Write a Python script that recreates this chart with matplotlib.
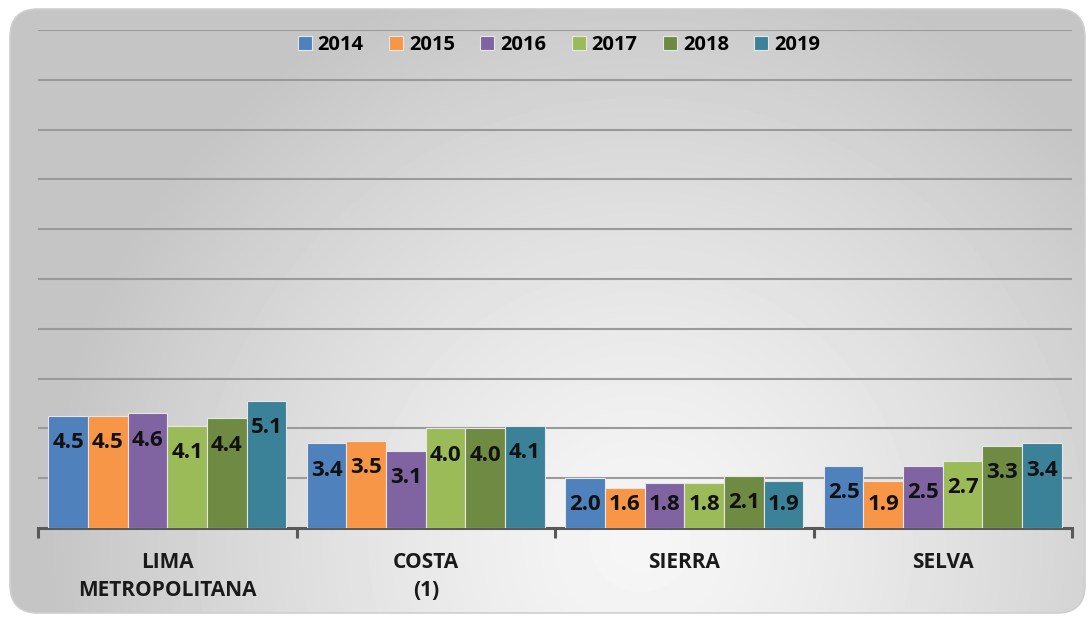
import numpy as np
import matplotlib
matplotlib.use("Agg")
import matplotlib.pyplot as plt
from matplotlib.patches import FancyBboxPatch

plt.rcParams['font.family'] = ['Open Sans', 'DejaVu Sans']

regions = ["LIMA\nMETROPOLITANA", "COSTA\n(1)", "SIERRA", "SELVA"]
years = ["2014", "2015", "2016", "2017", "2018", "2019"]
v2014 = [4.5, 3.4, 2.0, 2.5]
v2015 = [4.5, 3.5, 1.6, 1.9]
v2016 = [4.6, 3.1, 1.8, 2.5]
v2017 = [4.1, 4.0, 1.8, 2.7]
v2018 = [4.4, 4.0, 2.1, 3.3]
v2019 = [5.1, 4.1, 1.9, 3.4]
series = [v2014, v2015, v2016, v2017, v2018, v2019]
colors = ["#4f81bd", "#f79646", "#8064a2", "#9bbb59", "#6f8a42", "#3b8299"]

W, H = 1089, 621
fig = plt.figure(figsize=(W / 100, H / 100), dpi=100)
fig.patch.set_facecolor("white")

# background panel with soft gradient
bg = fig.add_axes([0, 0, 1, 1], zorder=-5)
bg.set_xlim(0, W)
bg.set_ylim(0, H)
bg.axis("off")
yy, xx = np.mgrid[0:H, 0:W]
d = np.hypot(xx - 640, (H - yy) - 80)
shade = np.clip(0.965 - 0.18 * (d / 560) ** 1.3, 0.77, 1)
img = bg.imshow(shade, cmap="gray", vmin=0, vmax=1, extent=[0, W, 0, H],
                origin="upper", aspect="auto")
panel = FancyBboxPatch((10, 8), W - 14, H - 17,
                       boxstyle="round,pad=0,rounding_size=28",
                       facecolor="none", edgecolor="#cfcfcf", lw=1.2)
bg.add_patch(panel)
img.set_clip_path(panel)

ax = fig.add_axes([38 / W, 1 - 528 / H, (1072 - 38) / W, (528 - 30) / H])
ax.patch.set_alpha(0)

n = len(series)
group = 0.92
bw = group / n
x = np.arange(len(regions))
for i, (vals, c) in enumerate(zip(series, colors)):
    pos = x - group / 2 + bw * (i + 0.5)
    ax.bar(pos, vals, width=bw, color=c, edgecolor="#e6e6e6", linewidth=0.8,
           label=years[i], zorder=3)
    for p, v in zip(pos, vals):
        ax.text(p, max(v - 1.08, 0.96), f"{v:.1f}", ha="center", va="center",
                fontsize=16, fontweight="bold", color="#111111", zorder=4)

ax.set_ylim(0, 20)
ax.set_xlim(-0.5, len(regions) - 0.5)
ax.set_yticks(np.arange(2, 21, 2))
ax.yaxis.grid(True, color="#9a9a9a", linewidth=1.5, zorder=0)
ax.tick_params(axis="y", length=0, labelleft=False)
for s in ["left", "right", "top"]:
    ax.spines[s].set_visible(False)
ax.spines["bottom"].set_color("#595959")
ax.spines["bottom"].set_linewidth(2.2)
ax.set_xticks(np.arange(len(regions) + 1) - 0.5)
ax.set_xticklabels([])
ax.tick_params(axis="x", which="major", length=7, width=2.2, color="#595959")
ax.set_xticks(x, minor=True)
ax.set_xticklabels(regions, minor=True, fontsize=15, fontweight="bold",
                   color="#1a1a1a", linespacing=1.45)
ax.tick_params(axis="x", which="minor", length=0, pad=17)

fig.legend(loc="center", bbox_to_anchor=(559 / W, 1 - 45 / H), ncol=6,
           frameon=False, prop={"size": 14.5, "weight": "bold"},
           handlelength=0.7, handleheight=0.7, handletextpad=0.3,
           columnspacing=1.25)

fig.savefig("out.png", dpi=100)
